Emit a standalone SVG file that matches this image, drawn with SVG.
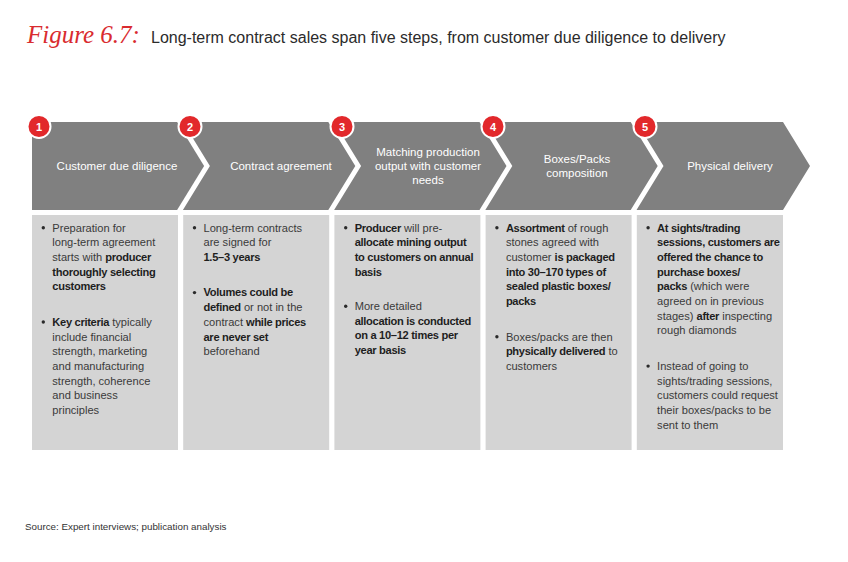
<svg xmlns="http://www.w3.org/2000/svg" width="848" height="562" viewBox="0 0 848 562">
<style>
.band{fill:#808080}
.box{fill:#d4d4d4}
.lbl{font-family:"Liberation Sans",Arial,sans-serif;font-size:11.5px;fill:#ffffff;text-anchor:middle}
.num{font-family:"Liberation Sans",Arial,sans-serif;font-size:11px;font-weight:bold;fill:#ffffff;text-anchor:middle}
.badge{fill:#e2282b;stroke:#ffffff;stroke-width:2}
.t{font-family:"Liberation Sans",Arial,sans-serif;font-size:11.1px;fill:#3a3a3a}
.b{font-weight:bold;fill:#1e1e1e;letter-spacing:-0.3px}
.dot{fill:#2a2a2a}
</style>
<rect width="848" height="562" fill="#ffffff"/>
<g id="title">
<text x="27" y="43" font-family="Liberation Serif,Times New Roman,serif" font-style="italic" font-size="25" fill="#d92b2f">Figure 6.7:</text>
<text x="151" y="43" font-family="Liberation Sans,Arial,sans-serif" font-size="16" fill="#2b2b2b">Long-term contract sales span five steps, from customer due diligence to delivery</text>
</g>

<g id="step1">
<polygon class="band" points="32,122 177.1,122 204.1,166 177.1,210 32,210"/>
<text class="lbl" x="117" y="170">Customer due diligence</text>
<rect class="box" x="32" y="215" width="146" height="235"/>
<circle class="dot" cx="43.3" cy="227.7" r="1.7"/>
<text class="t"><tspan x="52.3" y="231.5">Preparation for</tspan><tspan x="52.3" y="246.2">long-term agreement</tspan><tspan x="52.3" y="260.9">starts with <tspan class="b">producer</tspan></tspan><tspan x="52.3" y="275.6" class="b">thoroughly selecting</tspan><tspan x="52.3" y="290.3" class="b">customers</tspan></text>
<circle class="dot" cx="43.3" cy="322" r="1.7"/>
<text class="t"><tspan x="52.3" y="325.8"><tspan class="b">Key criteria</tspan> typically</tspan><tspan x="52.3" y="340.5">include financial</tspan><tspan x="52.3" y="355.2">strength, marketing</tspan><tspan x="52.3" y="369.9">and manufacturing</tspan><tspan x="52.3" y="384.6">strength, coherence</tspan><tspan x="52.3" y="399.3">and business</tspan><tspan x="52.3" y="414">principles</tspan></text>
<circle class="badge" cx="39" cy="126.5" r="11.5"/>
<text class="num" x="39" y="130.5">1</text>
</g>

<g id="step2">
<polygon class="band" points="182.9,122 328.3,122 355.3,166 328.3,210 182.9,210 209.9,166"/>
<text class="lbl" x="281" y="170">Contract agreement</text>
<rect class="box" x="183.2" y="215" width="146" height="235"/>
<circle class="dot" cx="194.5" cy="227.7" r="1.7"/>
<text class="t"><tspan x="203.5" y="231.5">Long-term contracts</tspan><tspan x="203.5" y="246.2">are signed for</tspan><tspan x="203.5" y="260.9" class="b">1.5–3 years</tspan></text>
<circle class="dot" cx="194.5" cy="292.6" r="1.7"/>
<text class="t"><tspan x="203.5" y="296.4" class="b">Volumes could be</tspan><tspan x="203.5" y="311.1"><tspan class="b">defined</tspan> or not in the</tspan><tspan x="203.5" y="325.8">contract <tspan class="b">while prices</tspan></tspan><tspan x="203.5" y="340.5" class="b">are never set</tspan><tspan x="203.5" y="355.2">beforehand</tspan></text>
<circle class="badge" cx="190" cy="126.5" r="11.5"/>
<text class="num" x="190" y="130.5">2</text>
</g>

<g id="step3">
<polygon class="band" points="334.1,122 479.5,122 506.5,166 479.5,210 334.1,210 361.1,166"/>
<text class="lbl"><tspan x="428" y="156">Matching production</tspan><tspan x="428" y="170">output with customer</tspan><tspan x="428" y="184">needs</tspan></text>
<rect class="box" x="334.4" y="215" width="146" height="235"/>
<circle class="dot" cx="345.7" cy="227.7" r="1.7"/>
<text class="t"><tspan x="354.7" y="231.5"><tspan class="b">Producer</tspan> will pre-</tspan><tspan x="354.7" y="246.2" class="b">allocate mining output</tspan><tspan x="354.7" y="260.9" class="b">to customers on annual</tspan><tspan x="354.7" y="275.6" class="b">basis</tspan></text>
<circle class="dot" cx="345.7" cy="306.2" r="1.7"/>
<text class="t"><tspan x="354.7" y="310">More detailed</tspan><tspan x="354.7" y="324.7" class="b">allocation is conducted</tspan><tspan x="354.7" y="339.4" class="b">on a 10–12 times per</tspan><tspan x="354.7" y="354.1" class="b">year basis</tspan></text>
<circle class="badge" cx="342" cy="126.5" r="11.5"/>
<text class="num" x="342" y="130.5">3</text>
</g>

<g id="step4">
<polygon class="band" points="485.3,122 630.7,122 657.7,166 630.7,210 485.3,210 512.3,166"/>
<text class="lbl"><tspan x="577" y="163">Boxes/Packs</tspan><tspan x="577" y="177">composition</tspan></text>
<rect class="box" x="485.6" y="215" width="146" height="235"/>
<circle class="dot" cx="496.9" cy="227.7" r="1.7"/>
<text class="t"><tspan x="505.9" y="231.5"><tspan class="b">Assortment</tspan> of rough</tspan><tspan x="505.9" y="246.2">stones agreed with</tspan><tspan x="505.9" y="260.9">customer <tspan class="b">is packaged</tspan></tspan><tspan x="505.9" y="275.6" class="b">into 30–170 types of</tspan><tspan x="505.9" y="290.3" class="b">sealed plastic boxes/</tspan><tspan x="505.9" y="305" class="b">packs</tspan></text>
<circle class="dot" cx="496.9" cy="336.7" r="1.7"/>
<text class="t"><tspan x="505.9" y="340.5">Boxes/packs are then</tspan><tspan x="505.9" y="355.2"><tspan class="b">physically delivered</tspan> to</tspan><tspan x="505.9" y="369.9">customers</tspan></text>
<circle class="badge" cx="493" cy="126.5" r="11.5"/>
<text class="num" x="493" y="130.5">4</text>
</g>

<g id="step5">
<polygon class="band" points="636.5,122 783,122 810,166 783,210 636.5,210 663.5,166"/>
<text class="lbl" x="730" y="170">Physical delivery</text>
<rect class="box" x="636.8" y="215" width="146.2" height="235"/>
<circle class="dot" cx="648.1" cy="227.7" r="1.7"/>
<text class="t"><tspan x="657.1" y="231.5" class="b">At sights/trading</tspan><tspan x="657.1" y="246.2" class="b">sessions, customers are</tspan><tspan x="657.1" y="260.9" class="b">offered the chance to</tspan><tspan x="657.1" y="275.6" class="b">purchase boxes/</tspan><tspan x="657.1" y="290.3"><tspan class="b">packs</tspan> (which were</tspan><tspan x="657.1" y="305">agreed on in previous</tspan><tspan x="657.1" y="319.7">stages) <tspan class="b">after</tspan> inspecting</tspan><tspan x="657.1" y="334.4">rough diamonds</tspan></text>
<circle class="dot" cx="648.1" cy="366.1" r="1.7"/>
<text class="t"><tspan x="657.1" y="369.9">Instead of going to</tspan><tspan x="657.1" y="384.6">sights/trading sessions,</tspan><tspan x="657.1" y="399.3">customers could request</tspan><tspan x="657.1" y="414">their boxes/packs to be</tspan><tspan x="657.1" y="428.7">sent to them</tspan></text>
<circle class="badge" cx="645" cy="126.5" r="11.5"/>
<text class="num" x="645" y="130.5">5</text>
</g>

<text id="source" x="25" y="530" font-family="Liberation Sans,Arial,sans-serif" font-size="9.8" fill="#333333">Source:  Expert interviews; publication analysis</text>
</svg>
